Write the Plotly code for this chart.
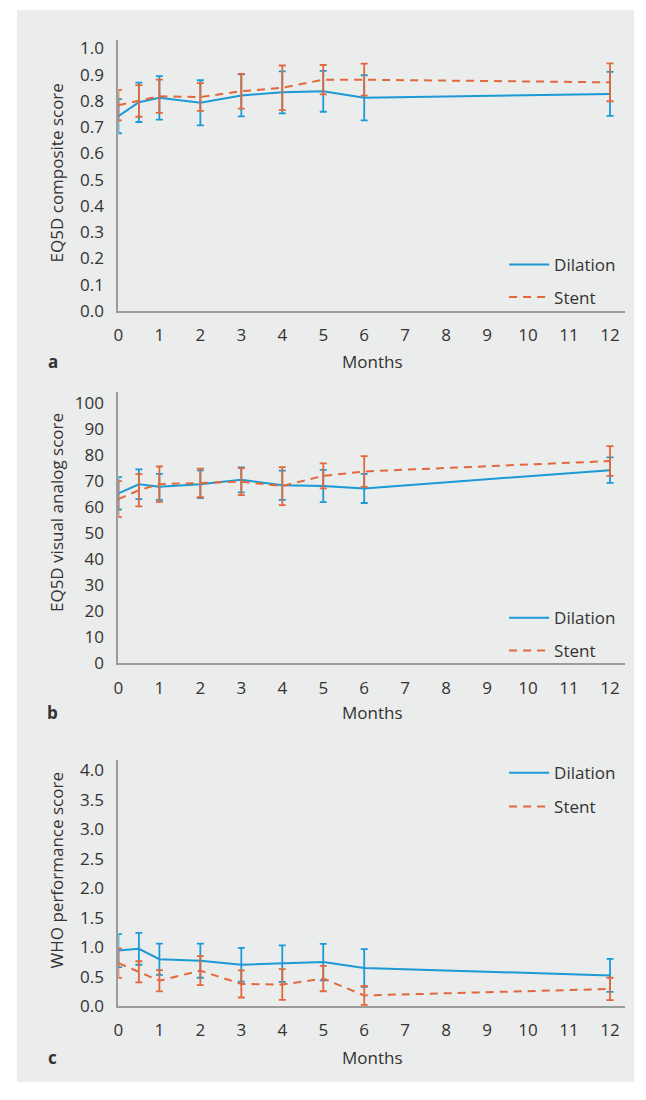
import plotly.graph_objects as go

W, H = 646, 1100

months = [0, 0.5, 1, 2, 3, 4, 5, 6, 12]
x_ticks = list(range(0, 13))

# Panel a: EQ5D composite score
dil_eq = [0.742, 0.795, 0.812, 0.793, 0.821, 0.833, 0.837, 0.812, 0.827]
dil_eq_err = [0.065, 0.075, 0.083, 0.086, 0.080, 0.080, 0.078, 0.086, 0.084]
stent_eq = [0.784, 0.800, 0.818, 0.815, 0.837, 0.850, 0.881, 0.881, 0.871]
stent_eq_err = [0.058, 0.060, 0.063, 0.053, 0.066, 0.085, 0.056, 0.061, 0.072]

# Panel b: EQ5D visual analog score
dil_vas = [65.3, 68.8, 67.8, 68.8, 70.5, 68.4, 68.1, 67.2, 74.2]
dil_vas_err = [6.2, 5.7, 5.0, 5.3, 4.8, 5.6, 6.2, 5.6, 4.9]
stent_vas = [63.1, 66.5, 68.8, 69.3, 69.8, 68.1, 72.0, 73.7, 77.7]
stent_vas_err = [6.9, 6.2, 6.8, 5.5, 5.2, 7.3, 4.8, 5.9, 5.7]

# Panel c: WHO performance score
dil_who = [0.94, 0.97, 0.795, 0.77, 0.70, 0.72, 0.745, 0.645, 0.52]
dil_who_err = [0.28, 0.27, 0.265, 0.29, 0.285, 0.31, 0.31, 0.32, 0.28]
stent_who = [0.728, 0.58, 0.43, 0.60, 0.375, 0.365, 0.466, 0.18, 0.29]
stent_who_err = [0.25, 0.18, 0.18, 0.245, 0.23, 0.26, 0.215, 0.16, 0.19]

y_titles = ["EQ5D composite score", "EQ5D visual analog score", "WHO performance score"]
panel_letters = ["a", "b", "c"]
x_title = "Months"

BLUE = "#1b9ad6"
ORANGE = "#e2683c"
BG = "#ebecec"
AXIS = "#9b9b9b"
TXT = "#333333"
FONT = "Open Sans"

def px_x(p):
    return p / W

def px_y(p):
    return 1 - p / H

x_dom = [px_x(114.3), px_x(625)]
panels = [
    dict(top=37, bot=312, rng=[0, 1.034], fmt=".1f", tickvals=[i / 10 for i in range(11)],
         dil=dil_eq, dile=dil_eq_err, st=stent_eq, ste=stent_eq_err, leg=(247, 280), title_y=172, label_y=363),
    dict(top=394, bot=669, rng=[0, 104.2], fmt="d", tickvals=list(range(0, 101, 10)),
         dil=dil_vas, dile=dil_vas_err, st=stent_vas, ste=stent_vas_err, leg=(605, 638), title_y=516, label_y=719),
    dict(top=767, bot=1016, rng=[0, 4.167], fmt=".1f", tickvals=[i / 2 for i in range(9)],
         dil=dil_who, dile=dil_who_err, st=stent_who, ste=stent_who_err, leg=(762, 796), title_y=879, label_y=1068),
]

fig = go.Figure()
layout = dict(
    width=W, height=H,
    margin=dict(l=0, r=0, t=0, b=0),
    paper_bgcolor="white",
    plot_bgcolor=BG,
    font=dict(family=FONT, size=17, color=TXT),
    showlegend=True,
    shapes=[dict(type="rect", xref="paper", yref="paper", x0=px_x(12), x1=px_x(634),
                 y0=px_y(1093), y1=px_y(7), fillcolor=BG, line=dict(width=0), layer="below")],
    annotations=[],
)

for i, p in enumerate(panels):
    n = "" if i == 0 else str(i + 1)
    xa, ya = "x" + n, "y" + n
    leg_d = "legend" + ("" if i == 0 else str(2 * i + 1))
    leg_s = "legend" + str(2 * i + 2)
    fig.add_trace(go.Scatter(
        x=months, y=p["dil"], mode="lines", name="Dilation", xaxis=xa, yaxis=ya,
        line=dict(color=BLUE, width=2), cliponaxis=False, legend=leg_d,
        error_y=dict(type="data", array=p["dile"], color=BLUE, thickness=1.8, width=3.5),
    ))
    fig.add_trace(go.Scatter(
        x=months, y=p["st"], mode="lines", name="Stent", xaxis=xa, yaxis=ya,
        line=dict(color=ORANGE, width=2, dash="8px,6px"), cliponaxis=False, legend=leg_s,
        error_y=dict(type="data", array=p["ste"], color=ORANGE, thickness=1.8, width=3.5),
    ))
    layout["xaxis" + n] = dict(
        domain=x_dom, anchor=ya, range=[0, 12.37], tickvals=x_ticks, ticks="",
        showgrid=False, zeroline=False, showline=True, linecolor=AXIS, linewidth=2,
        ticklabelstandoff=8, tickfont=dict(size=17, color=TXT),
    )
    layout["yaxis" + n] = dict(
        domain=[px_y(p["bot"]), px_y(p["top"])], anchor=xa, range=p["rng"],
        tickvals=p["tickvals"], tickformat=p["fmt"], ticks="",
        showgrid=False, zeroline=False, showline=True, linecolor=AXIS, linewidth=2,
        ticklabelstandoff=9, tickfont=dict(size=17, color=TXT),
    )
    for lg, top in ((leg_d, p["leg"][0]), (leg_s, p["leg"][1])):
        layout[lg] = dict(
            x=px_x(503), y=px_y(top), xanchor="left", yanchor="top",
            bgcolor="rgba(0,0,0,0)", borderwidth=0, font=dict(size=17, color=TXT),
            itemwidth=40,
        )
    layout["annotations"].append(dict(
        text=y_titles[i], textangle=-90, xref="paper", yref="paper",
        x=px_x(52), y=px_y(p["title_y"]), xanchor="center", yanchor="middle",
        showarrow=False, font=dict(size=17, color=TXT)))
    layout["annotations"].append(dict(
        text=x_title, xref="paper", yref="paper",
        x=px_x(370), y=px_y(p["label_y"]), xanchor="center", yanchor="middle",
        showarrow=False, font=dict(size=17, color=TXT)))
    layout["annotations"].append(dict(
        text="<b>" + panel_letters[i] + "</b>", xref="paper", yref="paper",
        x=px_x(48), y=px_y(p["label_y"]), xanchor="center", yanchor="middle",
        showarrow=False, font=dict(size=17, color=TXT)))

fig.update_layout(**layout)
fig.write_html("out.html")
